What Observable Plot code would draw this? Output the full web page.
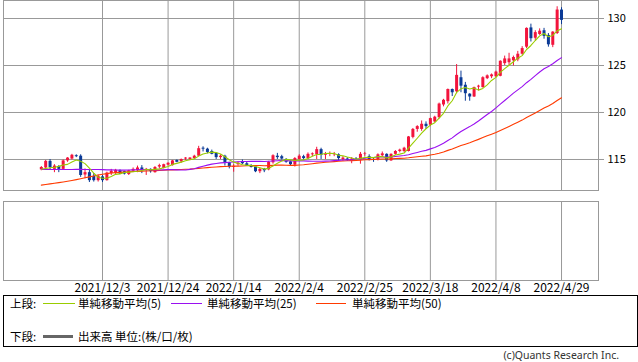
<!DOCTYPE html>
<html><head><meta charset="utf-8">
<script src="https://cdn.jsdelivr.net/npm/d3@7"></script>
<script src="https://cdn.jsdelivr.net/npm/@observablehq/plot@0.6"></script>
<style>
body{margin:0;background:#fff;}
#wrap{position:relative;width:638px;height:362px;overflow:hidden;background:#fff;font-family:"Noto Sans CJK JP",sans-serif;}
#wrap svg{position:absolute;left:0;}
</style></head><body><div id="wrap"></div>
<script>
const dates = [
"2021/11/15","2021/11/16","2021/11/17","2021/11/18","2021/11/19","2021/11/22","2021/11/23","2021/11/24","2021/11/25","2021/11/26","2021/11/29","2021/11/30",
"2021/12/1","2021/12/2","2021/12/3","2021/12/6","2021/12/7","2021/12/8","2021/12/9","2021/12/10","2021/12/13","2021/12/14","2021/12/15","2021/12/16","2021/12/17","2021/12/20","2021/12/21","2021/12/22","2021/12/23","2021/12/24","2021/12/27","2021/12/28","2021/12/29","2021/12/30","2021/12/31",
"2022/1/3","2022/1/4","2022/1/5","2022/1/6","2022/1/7","2022/1/10","2022/1/11","2022/1/12","2022/1/13","2022/1/14","2022/1/17","2022/1/18","2022/1/19","2022/1/20","2022/1/21","2022/1/24","2022/1/25","2022/1/26","2022/1/27","2022/1/28","2022/1/31",
"2022/2/1","2022/2/2","2022/2/3","2022/2/4","2022/2/7","2022/2/8","2022/2/9","2022/2/10","2022/2/11","2022/2/14","2022/2/15","2022/2/16","2022/2/17","2022/2/18","2022/2/21","2022/2/22","2022/2/23","2022/2/24","2022/2/25","2022/2/28",
"2022/3/1","2022/3/2","2022/3/3","2022/3/4","2022/3/7","2022/3/8","2022/3/9","2022/3/10","2022/3/11","2022/3/14","2022/3/15","2022/3/16","2022/3/17","2022/3/18","2022/3/21","2022/3/22","2022/3/23","2022/3/24","2022/3/25","2022/3/28","2022/3/29","2022/3/30","2022/3/31",
"2022/4/1","2022/4/4","2022/4/5","2022/4/6","2022/4/7","2022/4/8","2022/4/11","2022/4/12","2022/4/13","2022/4/14","2022/4/15","2022/4/18","2022/4/19","2022/4/20","2022/4/21","2022/4/22","2022/4/25","2022/4/26","2022/4/27","2022/4/28","2022/4/29"];

const open = [113.9,114.1,114.8,113.95,114.25,113.95,114.85,115.05,115.4,115.35,
113.35,113.6,113.2,112.75,113.15,112.75,113.5,113.55,113.8,113.7,
113.4,113.75,113.8,114.1,113.85,113.95,113.6,114.2,114.05,114.4,
114.35,114.9,114.75,115.05,115.0,115.1,115.35,116.2,116.1,115.85,
115.65,115.2,115.35,114.65,114.15,114.45,114.75,114.55,114.3,114.2,
113.7,113.95,113.9,114.65,115.35,115.3,115.0,114.75,114.4,115.0,
115.3,115.1,115.5,115.5,116.05,115.45,115.55,115.5,115.5,115.0,
115.05,114.8,115.05,114.95,115.55,115.3,115.0,115.0,115.4,115.55,
114.85,115.55,115.85,115.85,115.85,117.35,118.2,118.2,118.75,118.65,
119.0,119.45,120.8,121.15,122.45,122.2,123.7,122.9,121.95,121.65,
122.7,122.65,123.6,123.8,123.8,123.85,125.2,125.3,125.5,125.6,
126.2,126.95,129.0,127.9,128.3,128.7,128.2,127.15,128.4,130.9];

const high = [114.25,114.9,115.0,114.45,114.35,114.95,115.2,115.55,115.5,115.5,
114.0,113.9,113.5,113.35,113.3,113.65,113.95,113.95,113.9,113.75,
113.85,114.1,114.3,114.35,114.05,114.0,114.25,114.5,114.5,114.65,
114.9,114.95,115.05,115.2,115.2,115.45,116.4,116.35,116.2,116.0,
115.7,115.5,115.45,114.7,114.45,114.75,114.95,114.7,114.45,114.25,
114.05,114.05,114.8,115.5,115.65,115.45,115.1,114.85,115.2,115.5,
115.45,115.7,115.7,116.3,116.2,115.75,115.8,115.75,115.6,115.3,
115.2,115.2,115.2,115.75,115.75,115.5,115.1,115.6,115.8,115.6,
115.6,115.95,116.1,116.3,117.45,118.3,118.6,119.1,119.0,119.4,
119.6,121.0,121.4,122.5,122.5,125.1,124.4,123.2,122.0,122.7,
122.9,123.8,124.0,124.1,124.4,125.5,126.0,126.3,126.0,126.5,
127.0,129.0,129.4,128.7,128.9,128.95,128.4,128.6,131.25,131.15];

const low = [113.8,114.0,113.9,113.6,113.6,113.9,114.7,114.95,115.2,113.1,
112.95,112.55,112.6,112.6,112.55,112.7,113.3,113.4,113.4,113.35,
113.3,113.6,113.6,113.5,113.3,113.55,113.55,114.0,114.0,114.3,
114.3,114.65,114.6,114.9,114.9,115.0,115.3,115.8,115.6,115.5,
115.0,115.0,114.3,114.0,113.65,114.3,114.45,114.25,114.1,113.6,
113.5,113.6,113.8,114.5,115.0,114.95,114.6,114.3,114.2,114.9,
114.95,115.0,115.3,115.0,115.0,115.0,115.3,115.3,114.9,114.8,
114.8,114.55,114.85,114.5,115.35,114.85,114.7,114.85,115.3,114.7,
114.8,115.45,115.7,115.7,115.8,117.2,117.9,118.0,118.2,118.5,
118.9,119.3,120.6,120.9,121.7,122.0,122.1,121.2,121.2,121.6,
122.3,122.6,123.5,123.6,123.7,123.8,125.0,125.0,124.95,125.4,
126.1,126.8,127.5,127.6,128.2,127.8,126.95,126.9,128.3,129.35];

const close = [114.15,114.8,114.15,114.3,113.95,114.85,115.15,115.45,115.3,113.3,
113.6,112.75,112.75,113.2,112.75,113.55,113.75,113.85,113.45,113.45,
113.8,113.95,114.1,113.85,113.95,113.7,114.15,114.35,114.45,114.6,
114.85,114.7,115.0,115.15,115.15,115.35,116.15,116.1,115.75,115.55,
115.2,115.35,114.6,114.2,114.25,114.6,114.55,114.3,114.15,113.7,
113.95,113.8,114.7,115.4,115.2,115.05,114.7,114.45,115.1,115.35,
115.1,115.55,115.6,116.05,115.45,115.55,115.6,115.55,115.1,115.15,
114.9,115.05,114.95,115.55,115.6,115.0,114.9,115.5,115.6,114.85,
115.55,115.85,116.0,116.2,117.4,118.2,118.5,118.75,118.5,119.35,
119.5,120.9,121.3,122.45,122.1,123.95,122.8,122.0,121.65,122.65,
122.8,123.7,123.9,124.0,124.3,125.45,125.7,125.7,125.85,126.2,
126.8,128.95,127.85,128.5,128.65,128.1,127.2,128.55,130.9,129.8];

const ma5 = [113.97,114.05,114.12,114.18,114.27,114.41,114.48,114.74,114.94,114.81,
114.56,114.08,113.54,113.12,113.01,113.0,113.2,113.42,113.47,113.61,
113.66,113.7,113.75,113.83,113.93,113.91,113.95,114.0,114.12,114.25,
114.48,114.59,114.72,114.86,114.97,115.07,115.36,115.58,115.7,115.78,
115.75,115.59,115.29,114.98,114.72,114.6,114.44,114.38,114.37,114.26,
114.13,113.98,114.06,114.31,114.61,114.83,115.01,114.96,114.9,114.93,
114.94,115.11,115.34,115.53,115.55,115.64,115.65,115.64,115.45,115.39,
115.26,115.15,115.03,115.12,115.21,115.23,115.2,115.31,115.32,115.17,
115.28,115.47,115.57,115.69,116.2,116.73,117.26,117.81,118.27,118.66,
118.92,119.4,119.91,120.7,121.25,122.14,122.52,122.66,122.5,122.61,
122.38,122.56,122.94,123.41,123.74,124.27,124.67,125.03,125.4,125.78,
126.05,126.7,127.13,127.66,128.15,128.41,128.06,128.2,128.68,128.91];

const ma25 = [113.95,113.95,113.94,113.94,113.93,113.93,113.93,113.94,113.95,113.95,
113.94,113.94,113.93,113.93,113.92,113.9,113.9,113.88,113.87,113.87,
113.88,113.9,113.91,113.92,113.93,113.91,113.88,113.89,113.9,113.92,
113.92,113.9,113.89,113.88,113.95,114.02,114.16,114.29,114.4,114.51,
114.57,114.64,114.67,114.7,114.73,114.76,114.79,114.79,114.81,114.8,
114.81,114.79,114.81,114.84,114.87,114.88,114.88,114.85,114.85,114.86,
114.85,114.83,114.81,114.82,114.81,114.83,114.84,114.88,114.91,114.95,
114.96,114.98,115.01,115.06,115.14,115.18,115.22,115.26,115.26,115.25,
115.27,115.32,115.38,115.42,115.5,115.63,115.75,115.87,115.97,116.13,
116.28,116.5,116.73,117.02,117.3,117.66,117.97,118.25,118.5,118.78,
119.09,119.44,119.78,120.11,120.49,120.89,121.28,121.67,122.06,122.41,
122.75,123.17,123.53,123.93,124.31,124.65,124.9,125.19,125.53,125.84];

const ma50 = [112.27,112.34,112.41,112.47,112.54,112.61,112.69,112.77,112.86,112.95,
113.05,113.15,113.25,113.35,113.43,113.5,113.56,113.6,113.63,113.66,
113.69,113.72,113.74,113.76,113.78,113.8,113.82,113.84,113.86,113.88,
113.9,113.92,113.94,113.96,113.98,114.02,114.06,114.1,114.14,114.18,
114.21,114.24,114.26,114.28,114.29,114.3,114.31,114.33,114.35,114.36,
114.36,114.34,114.35,114.37,114.4,114.4,114.39,114.37,114.37,114.41,
114.44,114.49,114.55,114.61,114.66,114.7,114.74,114.77,114.81,114.84,
114.86,114.88,114.9,114.93,114.97,114.99,115.01,115.03,115.05,115.06,
115.07,115.1,115.12,115.14,115.18,115.24,115.29,115.34,115.39,115.47,
115.56,115.67,115.8,115.97,116.12,116.31,116.48,116.63,116.78,116.96,
117.14,117.33,117.52,117.69,117.87,118.08,118.3,118.52,118.74,118.96,
119.19,119.46,119.7,119.95,120.22,120.47,120.7,120.96,121.28,121.57];

const tickLabels = ["2021/12/3","2021/12/24","2022/1/14","2022/2/4","2022/2/25","2022/3/18","2022/4/8","2022/4/29"];
const priceTicks = [115, 120, 125, 130];
const legendTop = ["単純移動平均(5)", "単純移動平均(25)", "単純移動平均(50)"];
const legendBottom = "出来高 単位:(株/口/枚)";
const rowLabels = ["上段:", "下段:"];
const credit = "(c)Quants Research Inc.";

const UP = "#f2143c", DOWN = "#0a3a96";
const MA_COLORS = ["#99cc00", "#9a10f0", "#ff3a00"];
const GRID = "#999";
const FONT = '"Noto Sans CJK JP", sans-serif';

const rows = dates.map((d, i) => ({i, d, o: open[i], h: high[i], l: low[i], c: close[i], m5: ma5[i], m25: ma25[i], m50: ma50[i]}));
const tickIdx = tickLabels.map(t => dates.indexOf(t));
const xDomain = [-8.65, 127.46];
const upRows = rows.filter(r => r.c >= r.o), downRows = rows.filter(r => r.c < r.o);

const wrap = document.getElementById("wrap");

const pricePlot = Plot.plot({
  width: 638, height: 191,
  marginTop: 0, marginBottom: 1, marginLeft: 3, marginRight: 40,
  style: {fontFamily: FONT, fontSize: "11px", color: "#000", background: "transparent", overflow: "visible"},
  x: {domain: xDomain, axis: null},
  y: {domain: [111.702, 131.915], axis: null},
  marks: [
    Plot.gridX(tickIdx, {stroke: GRID, strokeOpacity: 1}),
    Plot.gridY(priceTicks, {stroke: GRID, strokeOpacity: 1}),
    Plot.ruleX(upRows, {x: "i", y1: "l", y2: "h", stroke: UP, strokeWidth: 1}),
    Plot.ruleX(downRows, {x: "i", y1: "l", y2: "h", stroke: DOWN, strokeWidth: 1}),
    Plot.ruleX(upRows, {x: "i", y1: "o", y2: "c", stroke: UP, strokeWidth: 3}),
    Plot.ruleX(downRows, {x: "i", y1: "o", y2: "c", stroke: DOWN, strokeWidth: 3}),
    Plot.line(rows, {x: "i", y: "m50", stroke: MA_COLORS[2], strokeWidth: 1.1}),
    Plot.line(rows, {x: "i", y: "m25", stroke: MA_COLORS[1], strokeWidth: 1.1}),
    Plot.line(rows, {x: "i", y: "m5", stroke: MA_COLORS[0], strokeWidth: 1.1}),
    Plot.frame({stroke: GRID}),
    Plot.axisY(priceTicks, {anchor: "right", tickSize: 5, tickPadding: 4, stroke: GRID, label: null})
  ]
});
pricePlot.style.top = "0px";
wrap.appendChild(pricePlot);

const volumePlot = Plot.plot({
  width: 638, height: 104,
  marginTop: 10, marginBottom: 15, marginLeft: 3, marginRight: 40,
  style: {fontFamily: FONT, fontSize: "12px", color: "#000", background: "transparent", overflow: "visible"},
  x: {domain: xDomain, axis: null},
  y: {domain: [0, 1], axis: null},
  marks: [
    Plot.gridX(tickIdx, {stroke: GRID, strokeOpacity: 1}),
    Plot.frame({stroke: GRID}),
    Plot.axisX(tickIdx, {anchor: "bottom", tickSize: 0, tickPadding: 3, tickFormat: i => dates[i], label: null})
  ]
});
volumePlot.style.top = "191px";
wrap.appendChild(volumePlot);

// legend and credit
const legendSvg = d3.select(wrap).append("svg")
  .attr("width", 638).attr("height", 362)
  .style("top", "0px")
  .style("font-family", FONT).style("font-size", "11.5px");
legendSvg.append("rect").attr("x", 3.5).attr("y", 295.5).attr("width", 634).attr("height", 51)
  .attr("fill", "none").attr("stroke", "#000");
const row1 = 303.5, row2 = 336.5;
legendSvg.append("text").attr("x", 10).attr("y", row1).attr("dy", "0.35em").text(rowLabels[0]);
legendSvg.append("text").attr("x", 10).attr("y", row2).attr("dy", "0.35em").text(rowLabels[1]);
const legX = [[43, 75, 78], [171, 202, 207], [316, 346, 352]];
legendTop.forEach((t, k) => {
  legendSvg.append("line").attr("x1", legX[k][0]).attr("x2", legX[k][1]).attr("y1", row1).attr("y2", row1)
    .attr("stroke", MA_COLORS[k]).attr("stroke-width", 1);
  legendSvg.append("text").attr("x", legX[k][2]).attr("y", row1).attr("dy", "0.35em").text(t);
});
legendSvg.append("line").attr("x1", 43).attr("x2", 73).attr("y1", row2).attr("y2", row2)
  .attr("stroke", "#666").attr("stroke-width", 3);
legendSvg.append("text").attr("x", 78).attr("y", row2).attr("dy", "0.35em").text(legendBottom);
legendSvg.append("text").attr("x", 619).attr("y", 355.5).attr("dy", "0.35em").attr("text-anchor", "end")
  .attr("fill", "#333").style("font-family", '"Noto Sans", sans-serif').style("font-size", "10.5px").text(credit);
</script>
</body></html>
